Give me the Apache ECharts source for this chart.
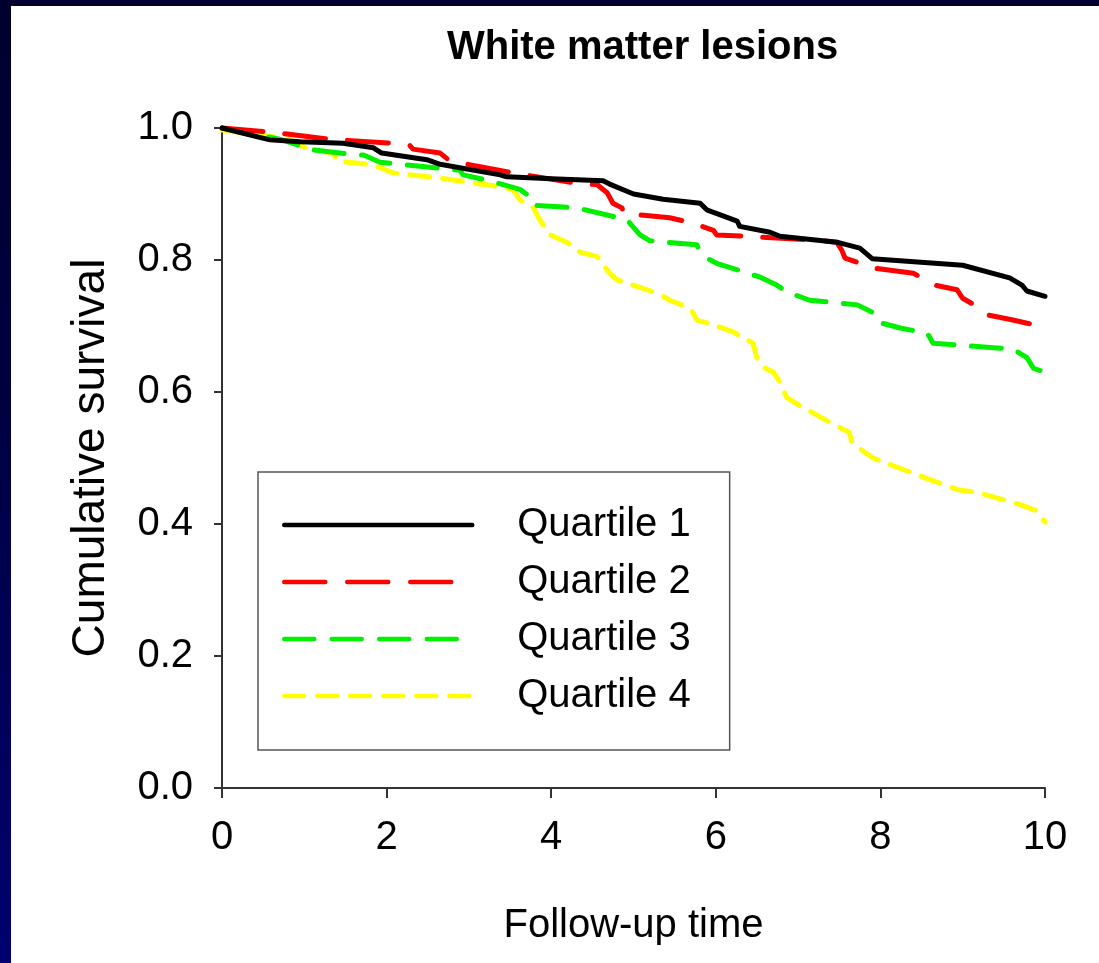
<!DOCTYPE html>
<html>
<head>
<meta charset="utf-8">
<script src="https://cdn.jsdelivr.net/npm/echarts@6/dist/echarts.min.js"></script>
<style>
  html, body { margin: 0; padding: 0; width: 1099px; height: 963px; overflow: hidden;
    background: linear-gradient(to bottom, #00002e 0%, #000040 40%, #000070 100%); }
  #chart { position: absolute; left: 11px; top: 6px; width: 1088px; height: 957px; background: #ffffff; }
</style>
</head>
<body>
<div id="chart"></div>
<script>
// Data: [follow-up time, cumulative survival]
const seriesNames = ['Quartile 1', 'Quartile 2', 'Quartile 3', 'Quartile 4'];
const xTicks = [0, 2, 4, 6, 8, 10];
const yTicks = [0.0, 0.2, 0.4, 0.6, 0.8, 1.0];

const quartile1 = [[0,1.0],[0.58,0.982],[0.95,0.979],[1.47,0.977],[1.84,0.97],[1.94,0.962],[2.49,0.952],[2.65,0.945],[3.38,0.929],[3.46,0.926],[4.0,0.923],[4.63,0.92],[4.71,0.915],[5.0,0.90],[5.36,0.892],[5.81,0.886],[5.89,0.876],[6.26,0.859],[6.29,0.851],[6.66,0.842],[6.78,0.836],[7.47,0.827],[7.75,0.818],[7.90,0.802],[9.0,0.792],[9.57,0.773],[9.72,0.762],[9.78,0.753],[10.0,0.745]];

const quartile2 = [[0,1.0],[0.55,0.994],[0.79,0.991],[1.31,0.983],[2.04,0.977],[2.28,0.974],[2.32,0.968],[2.65,0.962],[2.77,0.95],[3.54,0.932],[4.27,0.917],[4.56,0.914],[4.68,0.902],[4.75,0.886],[4.86,0.879],[4.88,0.871],[4.96,0.870],[5.44,0.864],[5.72,0.856],[5.97,0.845],[6.01,0.838],[6.5,0.835],[7.23,0.83],[7.47,0.827],[7.53,0.815],[7.57,0.803],[7.91,0.788],[8.4,0.78],[8.66,0.762],[8.93,0.755],[9.0,0.742],[9.21,0.727],[9.29,0.717],[9.61,0.709],[10.0,0.698]];

const quartile3 = [[0,1.0],[0.13,0.997],[0.7,0.983],[1.1,0.967],[1.52,0.961],[1.72,0.959],[1.92,0.948],[2.65,0.939],[2.89,0.936],[2.93,0.929],[3.22,0.921],[3.62,0.907],[3.74,0.896],[3.78,0.883],[4.31,0.879],[4.92,0.861],[5.08,0.838],[5.2,0.829],[5.47,0.826],[5.77,0.823],[5.81,0.812],[5.89,0.803],[6.01,0.795],[6.54,0.774],[6.74,0.762],[6.86,0.752],[7.14,0.739],[7.72,0.732],[7.9,0.721],[7.97,0.706],[8.24,0.697],[8.57,0.689],[8.64,0.674],[9.37,0.667],[9.61,0.665],[9.78,0.652],[9.86,0.636],[10.0,0.63]];

const quartile4 = [[0,0.997],[0.55,0.988],[0.83,0.983],[0.95,0.974],[1.07,0.967],[1.35,0.962],[1.4,0.95],[1.84,0.944],[2.08,0.932],[2.65,0.924],[3.38,0.911],[3.54,0.906],[3.62,0.891],[3.78,0.88],[3.86,0.861],[3.99,0.838],[4.19,0.827],[4.35,0.812],[4.56,0.805],[4.71,0.78],[4.8,0.77],[5.16,0.755],[5.32,0.748],[5.44,0.739],[5.69,0.727],[5.77,0.709],[5.97,0.702],[6.21,0.691],[6.45,0.674],[6.5,0.652],[6.57,0.638],[6.7,0.63],[6.78,0.615],[6.86,0.592],[7.01,0.58],[7.23,0.565],[7.4,0.553],[7.62,0.539],[7.66,0.522],[7.91,0.5],[8.52,0.471],[8.94,0.452],[9.2,0.447],[9.71,0.429],[9.88,0.421],[10.0,0.403]];

const FONT = "'Liberation Sans', Arial, sans-serif";
const chart = echarts.init(document.getElementById('chart'), null, { renderer: 'canvas' });

const LW = 5;
const styles = [
  { color: '#000000', type: 'solid' },
  { color: '#ff0000', type: [41, 22] },
  { color: '#00f000', type: [30, 17.5] },
  { color: '#ffff00', type: [20, 13] }
];
const dataSets = [quartile1, quartile2, quartile3, quartile4];

chart.setOption({
  animation: false,
  backgroundColor: '#ffffff',
  title: {
    text: 'White matter lesions',
    left: 431, top: 17,
    textStyle: { fontFamily: FONT, fontSize: 40, fontWeight: 'bold', color: '#000' }
  },
  grid: { left: 211, top: 122, right: 54, bottom: 175, containLabel: false },
  legend: {
    orient: 'vertical',
    left: 247, top: 466,
    data: seriesNames,
    backgroundColor: '#ffffff',
    borderColor: '#555555',
    borderWidth: 1.5,
    padding: [31, 39, 32, 24],
    itemWidth: 188,
    itemHeight: 20,
    itemGap: 13,
    itemStyle: { opacity: 0, borderWidth: 0 },
    lineStyle: { width: 4.5, cap: 'round' },
    textStyle: { fontFamily: FONT, fontSize: 40, color: '#000', lineHeight: 44, padding: [0, 0, 0, 40] }
  },
  xAxis: {
    type: 'value', min: 0, max: 10, interval: 2,
    name: 'Follow-up time', nameLocation: 'middle', nameGap: 118,
    nameTextStyle: { fontFamily: FONT, fontSize: 40, color: '#000' },
    axisLine: { show: true, onZero: false, lineStyle: { color: '#333', width: 2 } },
    axisTick: { show: true, length: 10, lineStyle: { color: '#333', width: 2 } },
    axisLabel: { fontFamily: FONT, fontSize: 40, color: '#000', margin: 30,
      formatter: v => xTicks.includes(v) ? String(v) : '' },
    splitLine: { show: false }
  },
  yAxis: {
    type: 'value', min: 0, max: 1, interval: 0.2,
    name: 'Cumulative survival', nameLocation: 'middle', nameGap: 108, nameRotate: 90,
    nameTextStyle: { fontFamily: FONT, fontSize: 46, color: '#000' },
    axisLine: { show: true, onZero: false, lineStyle: { color: '#333', width: 2 } },
    axisTick: { show: true, length: 8, lineStyle: { color: '#333', width: 2 } },
    axisLabel: { fontFamily: FONT, fontSize: 40, color: '#000', margin: 29,
      formatter: v => yTicks.some(t => Math.abs(t - v) < 1e-9) ? v.toFixed(1) : '' },
    splitLine: { show: false }
  },
  series: seriesNames.map((name, i) => ({
    name: name,
    type: 'line',
    data: dataSets[i],
    symbol: 'none',
    showSymbol: false,
    smooth: false,
    clip: false,
    color: styles[i].color,
    itemStyle: { color: styles[i].color },
    lineStyle: { color: styles[i].color, width: LW, type: styles[i].type, cap: 'round', join: 'round' },
    emphasis: { disabled: true },
    z: 2 + (3 - i)
  }))
});
</script>
</body>
</html>
